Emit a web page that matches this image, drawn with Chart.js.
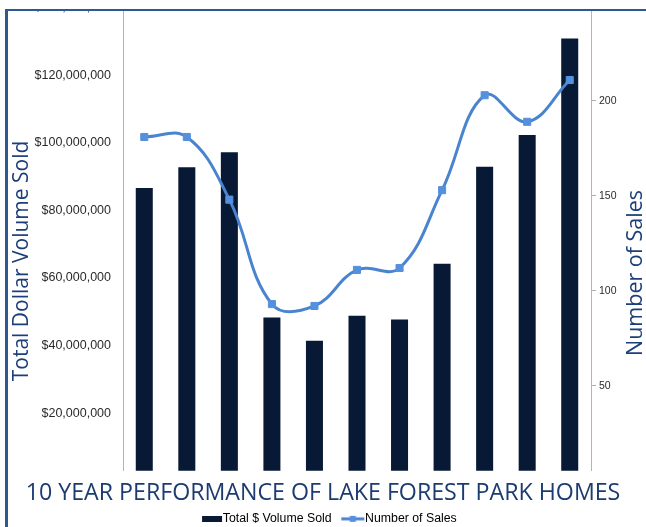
<!DOCTYPE html>
<html>
<head>
<meta charset="utf-8">
<script src="https://cdn.jsdelivr.net/npm/chart.js@4/dist/chart.umd.min.js"></script>
<style>
  html, body { margin: 0; padding: 0; background: #fff; width: 646px; height: 527px; overflow: hidden; }
  #frame {
    position: absolute; left: 5px; top: 9px; width: 638px; height: 516px;
    border-left: 3px solid #2f5893; border-top: 2px solid #2f5893;
    overflow: hidden; background: #fff;
  }
  #plot { position: absolute; left: -8px; top: -23px; }
</style>
</head>
<body>
<div id="frame"><canvas id="plot" width="646" height="547"></canvas></div>
<script>
// Yearly figures for Lake Forest Park home sales
const years = ['2003', '2004', '2005', '2006', '2007', '2008', '2009', '2010', '2011', '2012', '2013'];
const volumeSold = [86.6e6, 92.7e6, 97.2e6, 48.3e6, 41.4e6, 48.8e6, 47.7e6, 64.2e6, 92.9e6, 102.3e6, 130.8e6];
const numberOfSales = [181, 181, 148, 93, 92, 111, 112, 153, 203, 189, 211];

// Axis tick values
const volumeTicks = [20e6, 40e6, 60e6, 80e6, 100e6, 120e6, 140e6];
const salesTicks = [50, 100, 150, 200, 250];

const NAVY = '#071935';
const LINE_BLUE = '#4a84cf';
const MARK_BLUE = '#5590dd';
const CAPTION = '#1c3e7a';

// Legend swatches: a solid bar block and a line with a square marker
function barSwatch() {
  const c = document.createElement('canvas');
  c.width = 40; c.height = 6;
  const g = c.getContext('2d');
  g.fillStyle = NAVY;
  g.fillRect(19, 0, 20, 6);
  return c;
}
function lineSwatch() {
  const c = document.createElement('canvas');
  c.width = 40; c.height = 8;
  const g = c.getContext('2d');
  g.strokeStyle = LINE_BLUE;
  g.lineWidth = 3;
  g.beginPath(); g.moveTo(16, 4); g.lineTo(39, 4); g.stroke();
  g.fillStyle = MARK_BLUE;
  g.fillRect(24.5, 1, 6, 6);
  return c;
}
const swatches = [barSwatch(), lineSwatch()];

// Rotated captions beside both value axes
const axisCaptions = {
  id: 'axisCaptions',
  afterDraw(chart) {
    const c = chart.ctx;
    c.save();
    c.fillStyle = CAPTION;
    c.textAlign = 'center';
    c.textBaseline = 'alphabetic';
    c.font = '21px "Open Sans"';
    c.translate(27.5, 273);
    c.rotate(-Math.PI / 2);
    c.fillText('Total Dollar Volume Sold', 0, 0);
    c.restore();

    c.save();
    c.fillStyle = CAPTION;
    c.textAlign = 'center';
    c.textBaseline = 'alphabetic';
    c.font = '21.5px "Open Sans"';
    c.translate(642, 285);
    c.rotate(-Math.PI / 2);
    c.fillText('Number of Sales', 0, 0);
    c.restore();
  }
};

new Chart(document.getElementById('plot'), {
  type: 'bar',
  data: {
    labels: years,
    datasets: [
      {
        type: 'bar',
        label: 'Total $ Volume Sold',
        data: volumeSold,
        backgroundColor: NAVY,
        borderWidth: 0,
        yAxisID: 'yVol',
        order: 2,
        barPercentage: 0.4,
        categoryPercentage: 1
      },
      {
        type: 'line',
        label: 'Number of Sales',
        data: numberOfSales,
        borderColor: LINE_BLUE,
        borderWidth: 3,
        tension: 0.4,
        fill: false,
        pointStyle: 'rect',
        pointRadius: 5,
        pointBackgroundColor: MARK_BLUE,
        pointBorderColor: MARK_BLUE,
        pointBorderWidth: 1,
        yAxisID: 'ySales',
        order: 1
      }
    ]
  },
  options: {
    responsive: false,
    animation: false,
    devicePixelRatio: 1,
    layout: { padding: 0 },
    plugins: {
      tooltip: { enabled: false },
      title: {
        display: true,
        text: '10 YEAR PERFORMANCE OF LAKE FOREST PARK HOMES',
        position: 'bottom',
        weight: 500,
        color: '#1c3b70',
        font: { family: 'Open Sans', size: 23.2, weight: 'normal', lineHeight: 1.1 },
        padding: { top: 10.2, bottom: 6.3 }
      },
      legend: {
        position: 'bottom',
        weight: 1000,
        labels: {
          usePointStyle: true,
          pointStyleWidth: 27.4,
          padding: 0,
          color: '#1a1a1a',
          font: { family: 'Liberation Sans', size: 12.3 },
          generateLabels: (chart) => chart.data.datasets.map((ds, i) => ({
            text: ds.label,
            pointStyle: swatches[i],
            fillStyle: 'rgba(0,0,0,0)',
            strokeStyle: 'rgba(0,0,0,0)',
            lineWidth: 0,
            hidden: false,
            datasetIndex: i
          }))
        }
      }
    },
    scales: {
      x: { display: false, offset: true },
      yVol: {
        position: 'left',
        min: 2.957e6,
        max: 140e6,
        afterBuildTicks: (s) => { s.ticks = volumeTicks.map(v => ({ value: v })); },
        afterFit: (s) => { s.width = 123; },
        grid: { display: false, drawTicks: false },
        border: { display: true, color: '#b4b4b4', width: 1 },
        ticks: {
          padding: 12,
          color: '#2b2b2b',
          font: { family: 'Liberation Sans', size: 12.5, lineHeight: 1.2 },
          callback: (v) => '$' + Number(v).toLocaleString('en-US')
        }
      },
      ySales: {
        position: 'right',
        min: 5.26,
        max: 249.2,
        afterBuildTicks: (s) => { s.ticks = salesTicks.map(v => ({ value: v })); },
        afterFit: (s) => { s.width = 55; },
        grid: { display: true, drawOnChartArea: false, drawTicks: true, tickLength: 5, color: '#b0b0b0' },
        border: { display: true, color: '#b4b4b4', width: 1 },
        ticks: {
          padding: 3,
          color: '#2b2b2b',
          font: { family: 'Liberation Sans', size: 10.5, lineHeight: 1.2 },
          callback: (v) => String(v)
        }
      }
    }
  },
  plugins: [axisCaptions]
});
</script>
</body>
</html>
